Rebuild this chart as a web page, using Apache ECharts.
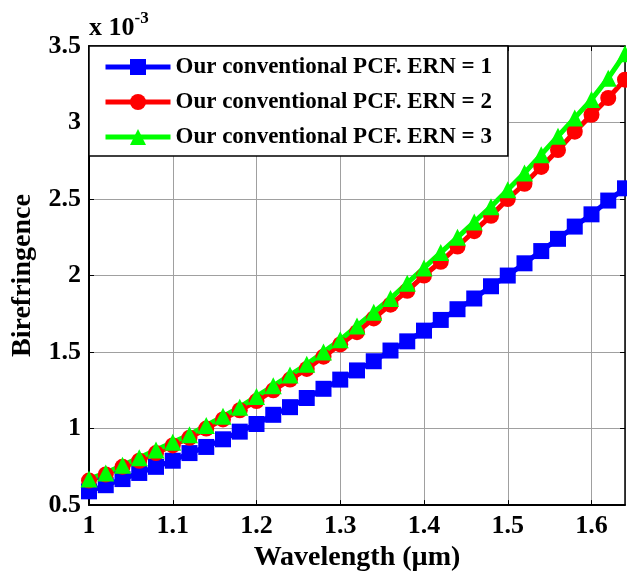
<!DOCTYPE html>
<html>
<head>
<meta charset="utf-8">
<script src="https://cdn.jsdelivr.net/npm/echarts@6/dist/echarts.min.js"></script>
<style>
  html, body { margin: 0; padding: 0; background: #fff; }
  #chart { width: 627px; height: 577px; }
</style>
</head>
<body>
<div id="chart"></div>
<script>
// Wavelength samples (µm)
const wavelength = [1.00, 1.02, 1.04, 1.06, 1.08, 1.10, 1.12, 1.14, 1.16, 1.18,
                    1.20, 1.22, 1.24, 1.26, 1.28, 1.30, 1.32, 1.34, 1.36, 1.38,
                    1.40, 1.42, 1.44, 1.46, 1.48, 1.50, 1.52, 1.54, 1.56, 1.58,
                    1.60, 1.62, 1.64];

// Birefringence (x 10^-3) for each ERN value
const ern1 = [0.59, 0.63, 0.67, 0.71, 0.75, 0.79, 0.84, 0.88, 0.93, 0.98,
              1.03, 1.09, 1.14, 1.20, 1.26, 1.32, 1.38, 1.44, 1.51, 1.57,
              1.64, 1.71, 1.78, 1.85, 1.93, 2.00, 2.08, 2.16, 2.24, 2.32,
              2.40, 2.49, 2.57];
const ern2 = [0.66, 0.70, 0.75, 0.79, 0.84, 0.89, 0.94, 1.00, 1.06, 1.12,
              1.18, 1.25, 1.32, 1.39, 1.47, 1.55, 1.63, 1.72, 1.81, 1.90,
              2.00, 2.09, 2.19, 2.29, 2.39, 2.50, 2.60, 2.71, 2.82, 2.94,
              3.05, 3.16, 3.28];
const ern3 = [0.67, 0.71, 0.76, 0.81, 0.86, 0.91, 0.96, 1.02, 1.08, 1.14,
              1.21, 1.28, 1.35, 1.42, 1.50, 1.58, 1.67, 1.76, 1.85, 1.95,
              2.05, 2.15, 2.25, 2.35, 2.45, 2.56, 2.67, 2.79, 2.91, 3.03,
              3.15, 3.29, 3.45];

const seriesNames = ['Our conventional PCF. ERN = 1',
                     'Our conventional PCF. ERN = 2',
                     'Our conventional PCF. ERN = 3'];

const xTicks = [1, 1.1, 1.2, 1.3, 1.4, 1.5, 1.6];
const yTicks = [0.5, 1, 1.5, 2, 2.5, 3, 3.5];

const FONT = '"Liberation Serif", "Times New Roman", serif';

function pairs(ys) { return wavelength.map((w, i) => [w, ys[i]]); }

const chart = echarts.init(document.getElementById('chart'), null, { renderer: 'canvas' });

const tickFmt = v => String(Math.round(v * 10) / 10);

// Box frame on the top and right sides, ticks pointing inward
const frameAxis = {
  axisLine: { show: true, lineStyle: { color: '#000', width: 1.5 } },
  axisTick: { show: true, inside: true, length: 5, lineStyle: { color: '#000', width: 1 } },
  axisLabel: { show: false },
  splitLine: { show: false }
};

chart.setOption({
  animation: false,
  backgroundColor: '#fff',
  grid: { left: 89, right: 2, top: 46, bottom: 61, containLabel: false },
  xAxis: [{
    type: 'value', min: 1, max: 1.64, interval: 0.1,
    name: 'Wavelength (µm)', nameLocation: 'middle', nameGap: 30,
    nameTextStyle: { fontFamily: FONT, fontWeight: 'bold', fontSize: 28, color: '#000' },
    axisLine: { show: true, onZero: false, lineStyle: { color: '#000', width: 2 } },
    axisTick: { show: true, inside: true, length: 5, lineStyle: { color: '#000', width: 1 } },
    axisLabel: {
      show: true, margin: 8, showMaxLabel: false,
      fontFamily: FONT, fontWeight: 'bold', fontSize: 26, color: '#000',
      formatter: v => xTicks.some(t => Math.abs(t - v) < 1e-6) ? tickFmt(v) : ''
    },
    splitLine: { show: true, lineStyle: { color: '#a0a0a0', width: 1 } }
  }, Object.assign({
    type: 'value', min: 1, max: 1.64, interval: 0.1, position: 'top'
  }, frameAxis)],
  yAxis: [{
    type: 'value', min: 0.5, max: 3.5, interval: 0.5,
    name: 'Birefringence', nameLocation: 'middle', nameGap: 52,
    nameTextStyle: { fontFamily: FONT, fontWeight: 'bold', fontSize: 28, color: '#000' },
    axisLine: { show: true, onZero: false, lineStyle: { color: '#000', width: 2 } },
    axisTick: { show: true, inside: true, length: 5, lineStyle: { color: '#000', width: 1 } },
    axisLabel: {
      show: true, margin: 8,
      fontFamily: FONT, fontWeight: 'bold', fontSize: 26, color: '#000',
      formatter: v => yTicks.some(t => Math.abs(t - v) < 1e-6) ? tickFmt(v) : ''
    },
    splitLine: { show: true, lineStyle: { color: '#a0a0a0', width: 1 } }
  }, Object.assign({
    type: 'value', min: 0.5, max: 3.5, interval: 0.5, position: 'right'
  }, frameAxis)],
  legend: {
    left: 89, top: 46,
    orient: 'vertical',
    backgroundColor: '#fff',
    borderColor: '#000', borderWidth: 1.5, borderRadius: 0,
    padding: [9, 16, 7, 14],
    itemWidth: 65, itemHeight: 20, itemGap: 11,
    lineStyle: { width: 5 },
    textStyle: { fontFamily: FONT, fontWeight: 'bold', fontSize: 23, color: '#000', lineHeight: 24 },
    data: seriesNames
  },
  graphic: [{
    type: 'text', left: 89, top: 10,
    style: {
      text: '{a|x 10}{b|-3}',
      rich: {
        a: { fontFamily: FONT, fontWeight: 'bold', fontSize: 26, fill: '#000', verticalAlign: 'bottom' },
        b: { fontFamily: FONT, fontWeight: 'bold', fontSize: 17, fill: '#000', verticalAlign: 'top', padding: [0, 0, 14, 0] }
      }
    }
  }],
  series: [{
    name: seriesNames[0], type: 'line', data: pairs(ern1),
    symbol: 'rect', symbolSize: 16, showAllSymbol: true,
    lineStyle: { color: '#0000ff', width: 5 },
    itemStyle: { color: '#0000ff' }
  }, {
    name: seriesNames[1], type: 'line', data: pairs(ern2),
    symbol: 'circle', symbolSize: 16, showAllSymbol: true,
    lineStyle: { color: '#ff0000', width: 5 },
    itemStyle: { color: '#ff0000' }
  }, {
    name: seriesNames[2], type: 'line', data: pairs(ern3),
    symbol: 'triangle', symbolSize: 17, showAllSymbol: true,
    lineStyle: { color: '#00ff00', width: 5 },
    itemStyle: { color: '#00ff00' }
  }]
});
</script>
</body>
</html>
